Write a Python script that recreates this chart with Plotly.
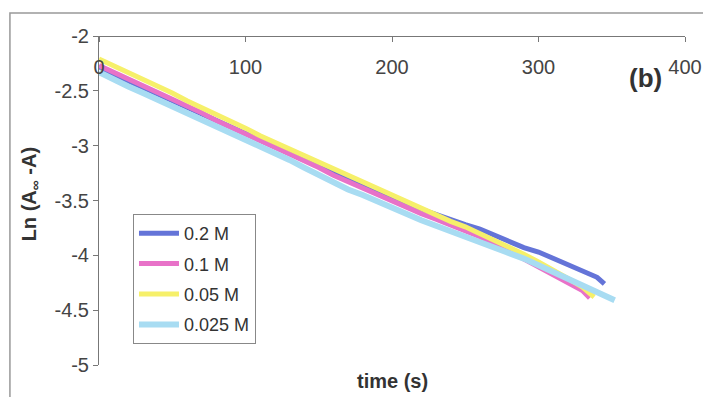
import plotly.graph_objects as go

# ---- data ----
series_names = ["0.2 M", "0.1 M", "0.05 M", "0.025 M"]
series_colors = ["#6474d8", "#e872c8", "#f6f06a", "#a8dcf2"]

t_02 = [0, 10, 20, 30, 40, 50, 60, 70, 80, 90, 100, 110, 120, 130, 140, 150, 160, 170,
        180, 190, 200, 210, 220, 230, 240, 250, 260, 270, 280, 290, 300, 310, 320, 330, 340, 345]
y_02 = [-2.28, -2.35, -2.41, -2.47, -2.53, -2.60, -2.66, -2.72, -2.78, -2.84, -2.90, -2.96,
        -3.02, -3.08, -3.14, -3.20, -3.26, -3.31, -3.37, -3.42, -3.48, -3.53, -3.58, -3.63,
        -3.67, -3.72, -3.76, -3.82, -3.87, -3.93, -3.97, -4.03, -4.08, -4.15, -4.20, -4.26]

t_01 = [0, 10, 20, 30, 40, 50, 60, 70, 80, 90, 100, 110, 120, 130, 140, 150, 160, 170,
        180, 190, 200, 210, 220, 230, 240, 250, 260, 270, 280, 290, 300, 310, 320, 330, 335]
y_01 = [-2.27, -2.33, -2.39, -2.45, -2.51, -2.57, -2.64, -2.70, -2.77, -2.83, -2.89, -2.95,
        -3.01, -3.08, -3.14, -3.20, -3.27, -3.33, -3.39, -3.45, -3.51, -3.56, -3.62, -3.67,
        -3.72, -3.77, -3.83, -3.89, -3.96, -4.03, -4.10, -4.17, -4.24, -4.32, -4.39]

t_005 = [0, 10, 20, 30, 40, 50, 60, 70, 80, 90, 100, 110, 120, 130, 140, 150, 160, 170,
         180, 190, 200, 210, 220, 230, 240, 250, 260, 270, 280, 290, 300, 310, 320, 330, 338]
y_005 = [-2.21, -2.27, -2.33, -2.40, -2.46, -2.52, -2.59, -2.65, -2.72, -2.78, -2.84, -2.91,
         -2.97, -3.03, -3.09, -3.16, -3.22, -3.28, -3.34, -3.40, -3.46, -3.52, -3.58, -3.64,
         -3.69, -3.74, -3.80, -3.86, -3.92, -3.99, -4.06, -4.13, -4.21, -4.29, -4.38]

t_0025 = [0, 10, 20, 30, 40, 50, 60, 70, 80, 90, 100, 110, 120, 130, 140, 150, 160, 170,
          180, 190, 200, 210, 220, 230, 240, 250, 260, 270, 280, 290, 300, 310, 320, 330, 340, 352]
y_0025 = [-2.33, -2.40, -2.46, -2.52, -2.58, -2.64, -2.71, -2.76, -2.82, -2.88, -2.94, -3.00,
          -3.07, -3.13, -3.20, -3.27, -3.33, -3.40, -3.45, -3.51, -3.57, -3.62, -3.68, -3.73,
          -3.78, -3.82, -3.87, -3.93, -3.98, -4.03, -4.09, -4.15, -4.21, -4.27, -4.33, -4.41]

x_tickvals = [0, 100, 200, 300, 400]
x_ticktext = ["0", "100", "200", "300", "400"]
y_tickvals = [-2, -2.5, -3, -3.5, -4, -4.5, -5]
y_ticktext = ["-2", "-2.5", "-3", "-3.5", "-4", "-4.5", "-5"]

xs = [t_02, t_01, t_005, t_0025]
ys = [y_02, y_01, y_005, y_0025]
widths = [5, 5, 5, 6]

FONT = "Liberation Sans, Arial, sans-serif"

fig = go.Figure()
for name, color, x, y, w in zip(series_names, series_colors, xs, ys, widths):
    fig.add_trace(go.Scatter(x=x, y=y, mode="lines", name=name, legendgroup=name,
                             line=dict(color=color, width=w)))

fig.update_layout(
    width=703, height=397,
    margin=dict(l=99, r=18, t=36, b=32),
    paper_bgcolor="white", plot_bgcolor="white",
    font=dict(family=FONT, size=20, color="#444444"),
    showlegend=True,
    legend=dict(x=0.058, y=0.459, xanchor="left", yanchor="top",
                bgcolor="white", bordercolor="#888888", borderwidth=1,
                font=dict(size=18, color="#333333"), tracegroupgap=4,
                itemwidth=40),
    xaxis=dict(range=[0, 400], tickvals=x_tickvals, ticktext=x_ticktext,
               anchor="free", position=1, side="bottom", automargin=False,
               showline=True, linecolor="#777777", linewidth=1,
               ticks="outside", ticklen=5, tickcolor="#777777",
               ticklabelstandoff=8, showgrid=False, zeroline=False),
    yaxis=dict(range=[-5, -2], tickvals=y_tickvals, ticktext=y_ticktext, automargin=False,
               showline=True, linecolor="#777777", linewidth=1,
               ticks="outside", ticklen=5, tickcolor="#777777",
               showgrid=False, zeroline=False),
)

# outer chart frame (left and top edges visible)
fig.add_shape(type="rect", xref="paper", yref="paper",
              x0=-0.152, x1=1.06, y0=-0.2, y1=1.07,
              line=dict(color="#999999", width=1.5), fillcolor="rgba(0,0,0,0)", layer="below")

fig.add_annotation(text="<b>time (s)</b>", xref="paper", yref="paper",
                   x=0.5, y=-0.05, xanchor="center", yanchor="middle",
                   showarrow=False, font=dict(size=20, color="#333333"))
fig.add_annotation(text="<b>Ln (A<sub>∞</sub> -A)</b>", xref="paper", yref="paper",
                   x=-0.117, y=0.52, xanchor="center", yanchor="middle", textangle=-90,
                   showarrow=False, font=dict(size=20, color="#333333"))
fig.add_annotation(text="<b>(b)</b>", xref="paper", yref="paper",
                   x=0.932, y=0.873, xanchor="center", yanchor="middle",
                   showarrow=False, font=dict(size=26, color="#333333"))

fig.write_html("out.html", config={"displayModeBar": False},
               post_script="document.body.style.margin='0';")
